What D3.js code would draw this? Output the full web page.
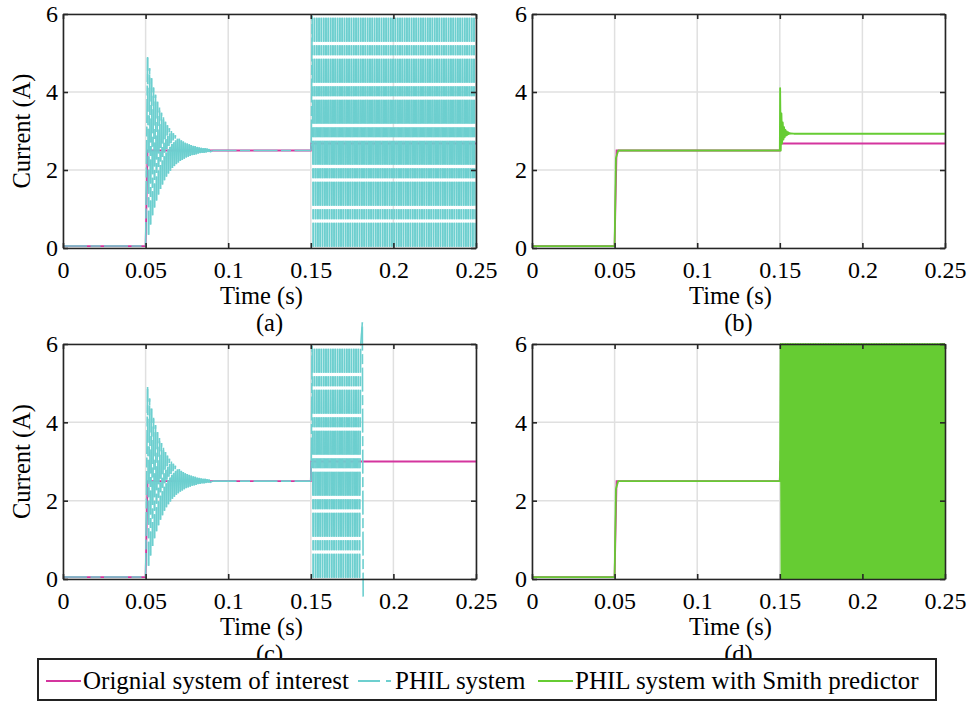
<!DOCTYPE html>
<html>
<head>
<meta charset="utf-8">
<script src="https://cdn.jsdelivr.net/npm/d3@7"></script>
<style>
  body { margin: 0; background: #fff; }
  svg { display: block; }
</style>
</head>
<body>
<svg id="chart" width="969" height="702"></svg>
<script>
// ---- axis ticks and labels ----
const timeTicks = [0, 0.05, 0.1, 0.15, 0.2, 0.25];
const timeTickLabels = ["0", "0.05", "0.1", "0.15", "0.2", "0.25"];
const currentTicks = [0, 2, 4, 6];
const panelLetters = ["(a)", "(b)", "(c)", "(d)"];
const legendLabels = ["Orignial system of interest", "PHIL system", "PHIL system with Smith predictor"];

// ---- original system of interest: breakpoints (s, A) ----
const origTime = [0, 0.05, 0.0512, 0.15, 0.1503, 0.25];
const origCurrentAB = [0.05, 0.05, 2.5, 2.5, 2.68, 2.68];
const origCurrentCD = [0.05, 0.05, 2.5, 2.5, 3.0, 3.0];

// ---- PHIL system: start-up ringing after the 0.05 s step ----
const philRingStart = 0.0512;
const philRingHalfPeriod = 0.0006;
const philRingHigh = [4.90, 4.61, 4.35, 4.12, 3.93, 3.75, 3.60, 3.47, 3.35, 3.24, 3.15, 3.07, 3.00, 2.94, 2.89, 2.84,
                      2.80, 2.76, 2.73, 2.70, 2.68, 2.66, 2.64, 2.62, 2.61, 2.59, 2.58, 2.57, 2.56, 2.56, 2.55, 2.54];
const philRingLow  = [0.34, 0.60, 0.84, 1.04, 1.22, 1.37, 1.51, 1.63, 1.74, 1.83, 1.91, 1.98, 2.05, 2.10, 2.15, 2.19,
                      2.23, 2.26, 2.29, 2.32, 2.34, 2.36, 2.38, 2.39, 2.40, 2.42, 2.43, 2.44, 2.44, 2.45, 2.46, 2.46];
// ---- PHIL system: unstable swing after the 0.15 s load step ----
const philSwingLevels = [5.96, 0.03];
const philSwingHalfPeriod = 0.0007;
const philSwingEndA = 0.25;
const philSwingEndC = 0.1806;
const philBurstTimeC = [0.1812, 0.1817];
const philBurstCurrentC = [6.55, -0.45];

// ---- PHIL with Smith predictor ----
const smithStartTime = [0, 0.05, 0.0508, 0.0522, 0.15];
const smithStartCurrent = [0.05, 0.05, 2.3, 2.5, 2.5];
const smithRingStart = 0.1502;
const smithRingHalfPeriod = 0.0004;
const smithRingHigh = [4.10, 3.45, 3.22, 3.10, 3.03, 2.99, 2.97, 2.95, 2.94];
const smithRingLow  = [2.50, 2.68, 2.78, 2.84, 2.88, 2.90, 2.92, 2.93];
const smithSettledB = 2.93;
const smithSwingLevels = [6.0, 0.0];
const smithSwingHalfPeriod = 0.0005;

// ---- series assembly helpers ----
const zip = (ts, vs) => ts.map((t, i) => [t, vs[i]]);
function ringPoints(start, half, highs, lows) {
  const pts = [];
  let k = 0;
  for (let i = 0; i < highs.length; i++) {
    pts.push([start + half * k++, highs[i]]);
    if (i < lows.length) pts.push([start + half * k++, lows[i]]);
  }
  return pts;
}
function swingPoints(start, end, half, levels) {
  const pts = [];
  for (let k = 0; start + half * k <= end + 1e-9; k++) pts.push([start + half * k, levels[k % 2]]);
  return pts;
}

const philCommon = [[0, 0.05], [0.05, 0.05]]
  .concat(ringPoints(philRingStart, philRingHalfPeriod, philRingHigh, philRingLow))
  .concat([[0.0905, 2.5], [0.15, 2.5]]);
const philA = philCommon.concat([[0.1503, 2.68]])
  .concat(swingPoints(0.1508, philSwingEndA, philSwingHalfPeriod, philSwingLevels));
const philC = philCommon.concat([[0.1503, 3.0]])
  .concat(swingPoints(0.1508, philSwingEndC, philSwingHalfPeriod, philSwingLevels))
  .concat(zip(philBurstTimeC, philBurstCurrentC));
const smithStart = zip(smithStartTime, smithStartCurrent);
const smithB = smithStart
  .concat(ringPoints(smithRingStart, smithRingHalfPeriod, smithRingHigh, smithRingLow))
  .concat([[0.1585, smithSettledB], [0.25, smithSettledB]]);
const smithD = smithStart.concat([[0.1502, 3.0]])
  .concat(swingPoints(0.1505, 0.25, smithSwingHalfPeriod, smithSwingLevels));

const COLORS = { orig: "#d4359e", phil: "#6dcfcf", smith: "#66cc33", grid: "#e0e0e0", axis: "#262626" };
const PHIL_DASH = "24 3.5 10 3.5";
const FONT = "Liberation Serif";
const FS_TICK = 24;
const FS_LABEL = 24.5;

const panels = [
  { letter: 0, x0: 63,  x1: 476, yTop: 14,  yBot: 248, ylabel: true,  orig: origCurrentAB, phil: philA },
  { letter: 1, x0: 532, x1: 945, yTop: 14,  yBot: 248, ylabel: false, orig: origCurrentAB, smith: smithB },
  { letter: 2, x0: 63,  x1: 476, yTop: 344, yBot: 579, ylabel: true,  orig: origCurrentCD, phil: philC },
  { letter: 3, x0: 532, x1: 945, yTop: 344, yBot: 579, ylabel: false, orig: origCurrentCD, smith: smithD }
];

const svg = d3.select("#chart");

panels.forEach(p => {
  const x = d3.scaleLinear().domain([0, 0.25]).range([p.x0, p.x1]);
  const y = d3.scaleLinear().domain([0, 6]).range([p.yBot, p.yTop]);
  const g = svg.append("g");

  // grid
  g.append("g").selectAll("line").data(timeTicks).join("line")
    .attr("x1", d => x(d)).attr("x2", d => x(d)).attr("y1", p.yTop).attr("y2", p.yBot)
    .attr("stroke", COLORS.grid).attr("stroke-width", 1.5);
  g.append("g").selectAll("line").data(currentTicks).join("line")
    .attr("x1", p.x0).attr("x2", p.x1).attr("y1", d => y(d)).attr("y2", d => y(d))
    .attr("stroke", COLORS.grid).attr("stroke-width", 1.5);

  const line = d3.line().x(d => x(d[0])).y(d => y(d[1]));

  // original system
  g.append("path").datum(zip(origTime, p.orig))
    .attr("d", line).attr("fill", "none")
    .attr("stroke", COLORS.orig).attr("stroke-width", 1.8);

  // PHIL: each segment drawn bottom-up so the dash pattern restarts at its lower end
  if (p.phil) {
    const segs = d3.pairs(p.phil).map(([a, b]) => (a[1] <= b[1] ? [a, b] : [b, a]));
    g.append("g").selectAll("line").data(segs).join("line")
      .attr("x1", d => x(d[0][0])).attr("y1", d => y(d[0][1]))
      .attr("x2", d => x(d[1][0])).attr("y2", d => y(d[1][1]))
      .attr("stroke", COLORS.phil).attr("stroke-width", 1.6)
      .attr("stroke-dasharray", PHIL_DASH);
  }
  if (p.smith) {
    g.append("path").datum(p.smith)
      .attr("d", line).attr("fill", "none")
      .attr("stroke", COLORS.smith).attr("stroke-width", 1.8).attr("stroke-linejoin", "round");
  }

  // axes: labels on bottom/left, inward ticks on all four sides
  const fmt = d => timeTickLabels[timeTicks.indexOf(d)];
  const axB = g.append("g").attr("transform", `translate(0,${p.yBot})`)
    .call(d3.axisBottom(x).tickValues(timeTicks).tickFormat(fmt).tickSizeInner(-5).tickSizeOuter(0).tickPadding(13));
  const axL = g.append("g").attr("transform", `translate(${p.x0},0)`)
    .call(d3.axisLeft(y).tickValues(currentTicks).tickFormat(d3.format("d")).tickSizeInner(-5).tickSizeOuter(0).tickPadding(5));
  const axT = g.append("g").attr("transform", `translate(0,${p.yTop})`)
    .call(d3.axisTop(x).tickValues(timeTicks).tickFormat("").tickSizeInner(-5).tickSizeOuter(0));
  const axR = g.append("g").attr("transform", `translate(${p.x1},0)`)
    .call(d3.axisRight(y).tickValues(currentTicks).tickFormat("").tickSizeInner(-5).tickSizeOuter(0));
  [axB, axL, axT, axR].forEach(a => {
    a.attr("font-family", FONT).attr("font-size", FS_TICK);
    a.select(".domain").attr("stroke", COLORS.axis).attr("stroke-width", 1.6);
    a.selectAll(".tick line").attr("stroke", COLORS.axis).attr("stroke-width", 1.6);
    a.selectAll(".tick text").attr("fill", "#000");
  });

  // titles
  g.append("text").attr("x", (p.x0 + p.x1) / 2 - 8).attr("y", p.yBot + 56)
    .attr("font-family", FONT).attr("text-anchor", "middle").attr("font-size", FS_LABEL).text("Time (s)");
  g.append("text").attr("x", (p.x0 + p.x1) / 2).attr("y", p.yBot + 83)
    .attr("font-family", FONT).attr("text-anchor", "middle").attr("font-size", FS_LABEL).text(panelLetters[p.letter]);
  if (p.ylabel) {
    g.append("text")
      .attr("transform", `translate(30,${(p.yTop + p.yBot) / 2}) rotate(-90)`)
      .attr("font-family", FONT).attr("text-anchor", "middle").attr("font-size", FS_LABEL).text("Current (A)");
  }
});

// legend
const leg = svg.append("g");
leg.append("rect").attr("x", 38).attr("y", 659).attr("width", 898).attr("height", 41)
  .attr("fill", "#fff").attr("stroke", "#222").attr("stroke-width", 2);
const legendItems = [
  { x: 46,  color: COLORS.orig,  dash: null,       label: legendLabels[0] },
  { x: 358, color: COLORS.phil,  dash: "22 6 5 6", label: legendLabels[1] },
  { x: 538, color: COLORS.smith, dash: null,       label: legendLabels[2] }
];
legendItems.forEach(it => {
  leg.append("line").attr("x1", it.x).attr("x2", it.x + 35).attr("y1", 681).attr("y2", 681)
    .attr("stroke", it.color).attr("stroke-width", 1.8).attr("stroke-dasharray", it.dash);
  leg.append("text").attr("x", it.x + 37).attr("y", 689).attr("font-family", FONT)
    .attr("font-size", 25).text(it.label);
});
</script>
</body>
</html>
